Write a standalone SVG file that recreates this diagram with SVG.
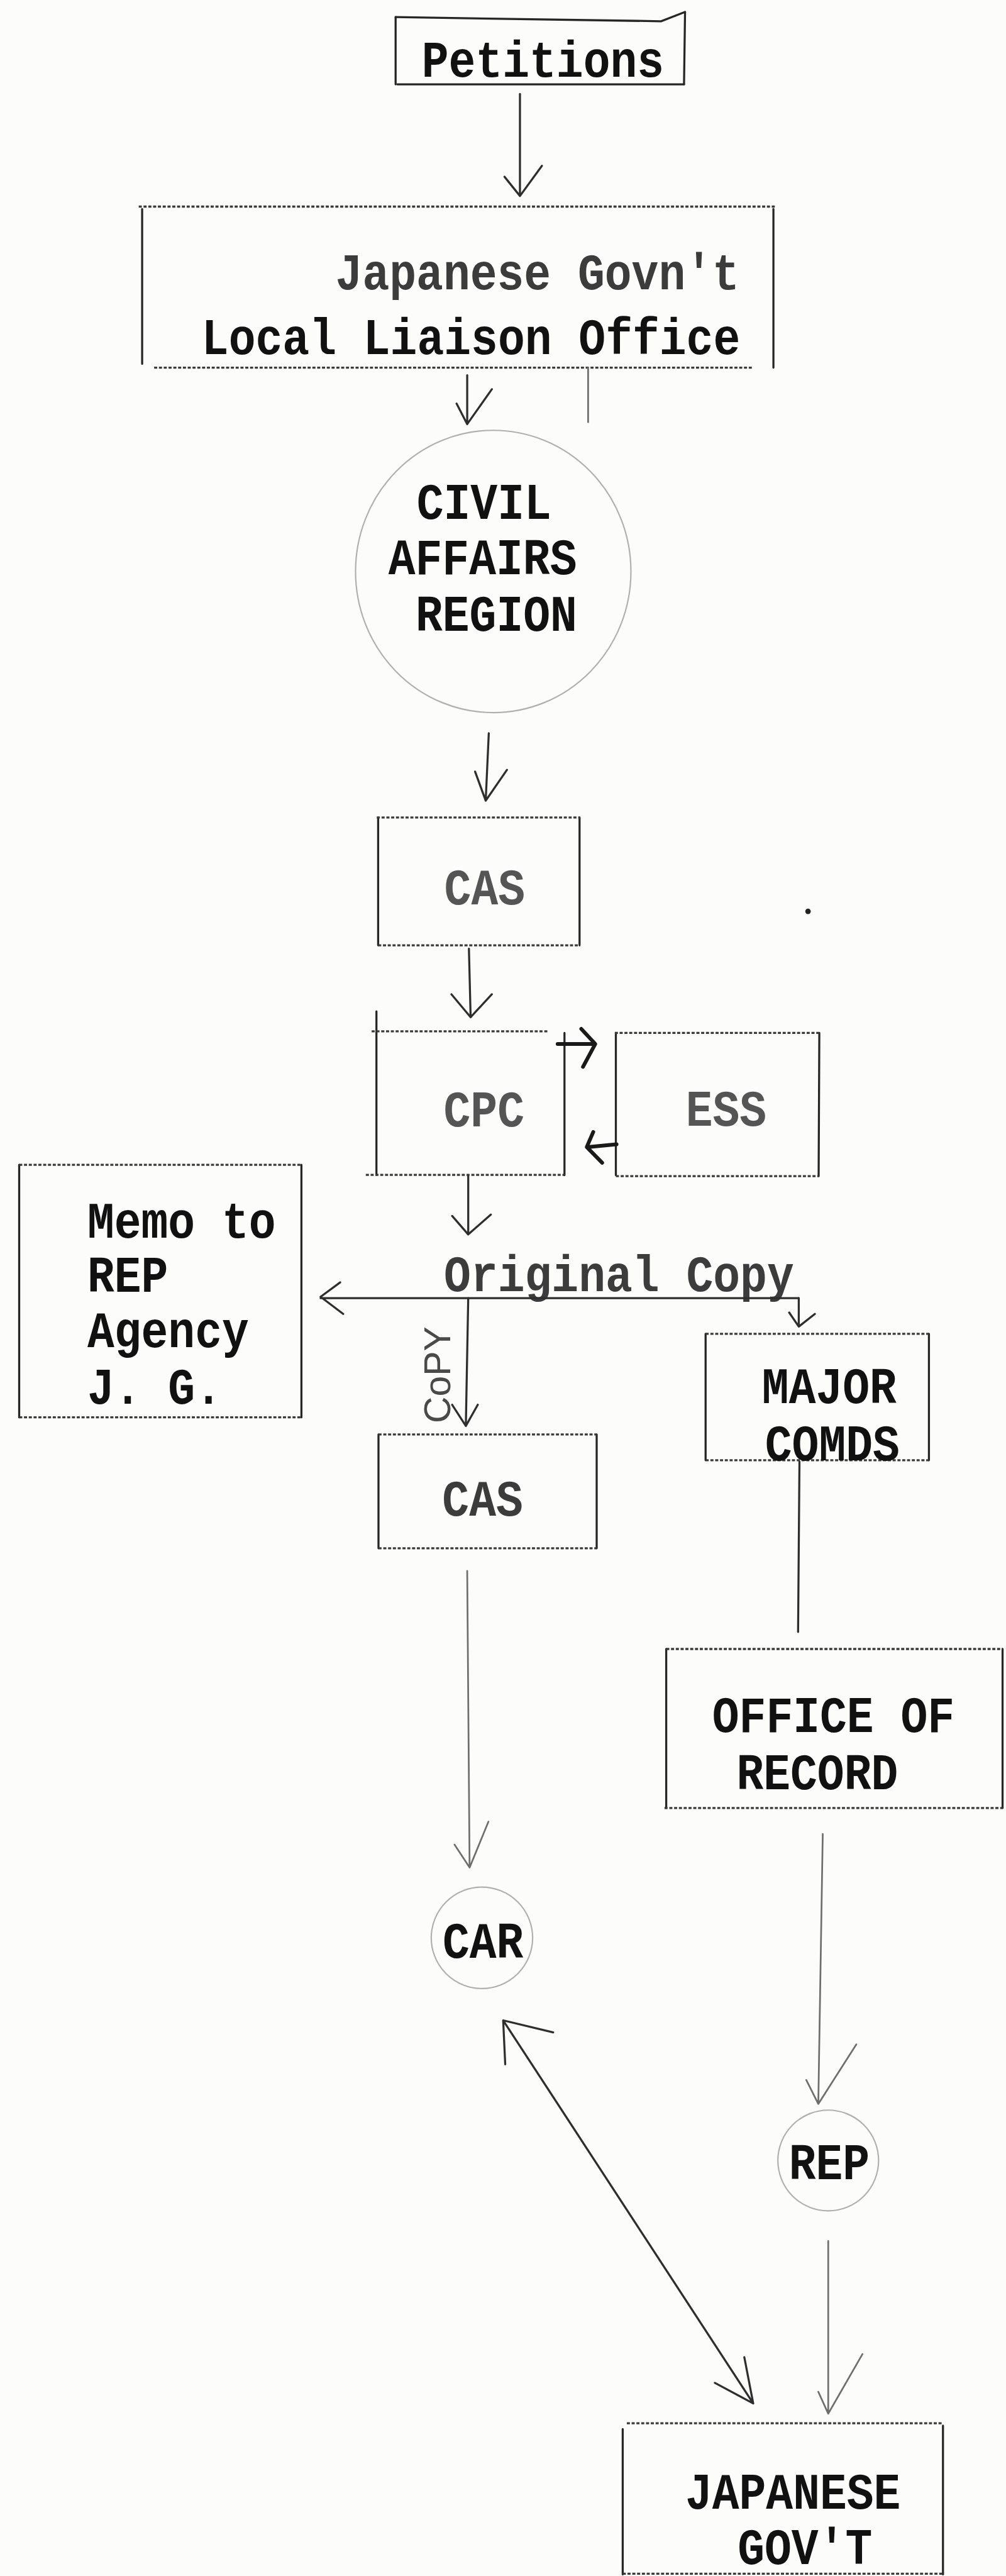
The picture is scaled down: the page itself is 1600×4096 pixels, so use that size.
<svg xmlns="http://www.w3.org/2000/svg" width="1600" height="4096" viewBox="0 0 1600 4096">
<style>
.side{stroke:#262626;stroke-width:6;fill:none;stroke-linecap:round}
.edge{stroke:#3a3a3a;stroke-width:6;fill:none;stroke-dasharray:9 5}
.ar{stroke:#2e2e2e;stroke-width:6;fill:none;stroke-linecap:round;stroke-linejoin:round}
.ar.lt{stroke:#6e6e6e;stroke-width:5}
.ar.hv{stroke:#1a1a1a;stroke-width:11}
.circ{stroke:#b0b0b0;stroke-width:4;fill:none}
.t{font-family:"Liberation Mono","Courier New",monospace;font-size:131px;font-weight:bold;fill:#111}
.t.md{fill:#3c3c3c}
.t.lg{fill:#555}
.hand{font-family:"Liberation Sans",Arial,sans-serif;font-size:108px;fill:#4a4a4a}
</style>
<rect x="0" y="0" width="1600" height="4096" fill="#fcfcfb"/>
<g transform="scale(0.544773)">
  <g id="petitions">
    <path class="side" d="M1155,50 L1155,246 M2000,35 L1997,246"/>
    <path class="side" d="M1155,50 L1930,62 L2000,35 M1160,246 L1997,246"/>
    <text class="t" transform="translate(1585 224) scale(1 1.15)" text-anchor="middle">Petitions</text>
  </g>
  <g id="liaison">
    <path class="side" d="M415,610 L415,1062 M2258,610 L2258,1073"/>
    <path class="edge" d="M405,603 L2265,603 M450,1073 L2195,1073"/>
    <text class="t md" transform="translate(1569 845) scale(1 1.15)" text-anchor="middle">Japanese Govn't</text>
    <text class="t" transform="translate(1375 1034) scale(1 1.15)" text-anchor="middle">Local Liaison Office</text>
  </g>
  <g id="civil-affairs-region">
    <ellipse class="circ" cx="1440" cy="1668" rx="402" ry="412"/>
    <text class="t" transform="translate(1413 1515) scale(1 1.15)" text-anchor="middle">CIVIL</text>
    <text class="t" transform="translate(1409 1676) scale(1 1.15)" text-anchor="middle">AFFAIRS</text>
    <text class="t" transform="translate(1449 1841) scale(1 1.15)" text-anchor="middle">REGION</text>
  </g>
  <g id="cas1">
    <path class="side" d="M1104,2386 L1104,2759 M1692,2386 L1692,2759"/>
    <path class="edge" d="M1100,2386 L1694,2386 M1104,2759 L1694,2759"/>
    <text class="t lg" transform="translate(1415 2639) scale(1 1.15)" text-anchor="middle">CAS</text>
  </g>
  <circle cx="2359" cy="2660" r="8" fill="#222"/>
  <g id="cpc">
    <path class="side" d="M1099,2952 L1099,3429 M1648,3015 L1648,3430"/>
    <path class="edge" d="M1085,3010 L1603,3010 M1068,3429 L1648,3429"/>
    <text class="t lg" transform="translate(1413 3288) scale(1 1.15)" text-anchor="middle">CPC</text>
  </g>
  <g id="ess">
    <path class="side" d="M1798,3015 L1798,3430 M2392,3015 L2390,3433"/>
    <path class="edge" d="M1795,3015 L2395,3015 M1798,3433 L2390,3433"/>
    <text class="t lg" transform="translate(2120 3285) scale(1 1.15)" text-anchor="middle">ESS</text>
  </g>
  <g id="memo">
    <path class="side" d="M56,3400 L56,4137 M880,3400 L880,4137"/>
    <path class="edge" d="M56,3400 L880,3400 M56,4137 L880,4137"/>
    <text class="t" transform="translate(255 3612) scale(1 1.15)">Memo to</text>
    <text class="t" transform="translate(255 3770) scale(1 1.15)">REP</text>
    <text class="t" transform="translate(255 3932) scale(1 1.15)">Agency</text>
    <text class="t" transform="translate(255 4098) scale(1 1.15)">J. G.</text>
  </g>
  <text id="original-copy" class="t md" transform="translate(1807 3768) scale(1 1.15)" text-anchor="middle">Original Copy</text>
  <g id="major-comds">
    <path class="side" d="M2060,3893 L2060,4262 M2712,3893 L2712,4262"/>
    <path class="edge" d="M2060,3893 L2712,3893 M2060,4262 L2712,4262"/>
    <text class="t" transform="translate(2421 4096) scale(1 1.15)" text-anchor="middle">MAJOR</text>
    <text class="t" transform="translate(2430 4262) scale(1 1.15)" text-anchor="middle">COMDS</text>
  </g>
  <g id="cas2">
    <path class="side" d="M1105,4187 L1105,4519 M1742,4187 L1742,4519"/>
    <path class="edge" d="M1105,4187 L1742,4187 M1105,4519 L1742,4519"/>
    <text class="t md" transform="translate(1409 4423) scale(1 1.15)" text-anchor="middle">CAS</text>
  </g>
  <g id="office-of-record">
    <path class="side" d="M1945,4813 L1945,5277 M2927,4813 L2927,5277"/>
    <path class="edge" d="M1945,4813 L2927,4813 M1940,5277 L2927,5277"/>
    <text class="t" transform="translate(2433 5056) scale(1 1.15)" text-anchor="middle">OFFICE OF</text>
    <text class="t" transform="translate(2386 5222) scale(1 1.15)" text-anchor="middle">RECORD</text>
  </g>
  <g id="car">
    <circle class="circ" cx="1407" cy="5656" r="148"/>
    <text class="t" transform="translate(1410 5714) scale(1 1.15)" text-anchor="middle">CAR</text>
  </g>
  <g id="rep">
    <circle class="circ" cx="2418" cy="6306" r="147"/>
    <text class="t" transform="translate(2421 6361) scale(1 1.15)" text-anchor="middle">REP</text>
  </g>
  <g id="japanese-govt">
    <path class="side" d="M1818,7090 L1818,7514 M2753,7080 L2753,7514"/>
    <path class="edge" d="M1830,7073 L2753,7073 M1818,7512 L2753,7512"/>
    <text class="t" transform="translate(2315 7323) scale(1 1.15)" text-anchor="middle">JAPANESE</text>
    <text class="t" transform="translate(2350 7483) scale(1 1.15)" text-anchor="middle">GOV'T</text>
  </g>
  <g id="connectors">
    <path class="ar" d="M1518,274 L1518,572 M1473,516 L1518,572 L1582,484"/>
    <path class="ar lt" d="M1717,1073 L1717,1232"/>
    <path class="ar" d="M1364,1095 L1364,1238 M1333,1178 L1364,1238 L1436,1136"/>
    <path class="ar" d="M1427,2140 L1418,2337 M1387,2252 L1418,2337 L1480,2247"/>
    <path class="ar" d="M1369,2769 L1374,2969 M1318,2902 L1374,2969 L1436,2902"/>
    <path class="ar hv" d="M1628,3047 L1736,3047 M1697,3003 L1738,3047 L1702,3114"/>
    <path class="ar hv" d="M1800,3340 L1715,3348 M1732,3304 L1713,3348 L1758,3394"/>
    <path class="ar" d="M1367,3433 L1367,3603 M1320,3549 L1367,3603 L1433,3545"/>
    <path class="ar" d="M2332,3789 L936,3789 M993,3743 L936,3785 L1002,3835"/>
    <path class="ar" d="M2332,3789 L2332,3872 M2304,3831 L2332,3872 L2379,3835"/>
    <path class="ar" d="M1367,3789 L1360,4162 M1320,4100 L1360,4162 L1395,4100"/>
    <text class="hand" transform="translate(1315 4013) rotate(-90)" text-anchor="middle">CoPY</text>
    <path class="ar" d="M2334,4266 L2330,4763"/>
    <path class="ar lt" d="M1364,4585 L1371,5451 M1327,5384 L1371,5451 L1426,5317"/>
    <path class="ar lt" d="M2402,5353 L2389,6141 M2354,6071 L2389,6141 L2500,5967"/>
    <path class="ar lt" d="M2418,6541 L2418,7045 M2389,6981 L2418,7045 L2518,6871"/>
    <path class="ar" d="M1469,5897 L2199,7015 M1475,6025 L1469,5897 L1615,5932 M2087,6955 L2199,7015 L2173,6880"/>
  </g>
</g>
</svg>
